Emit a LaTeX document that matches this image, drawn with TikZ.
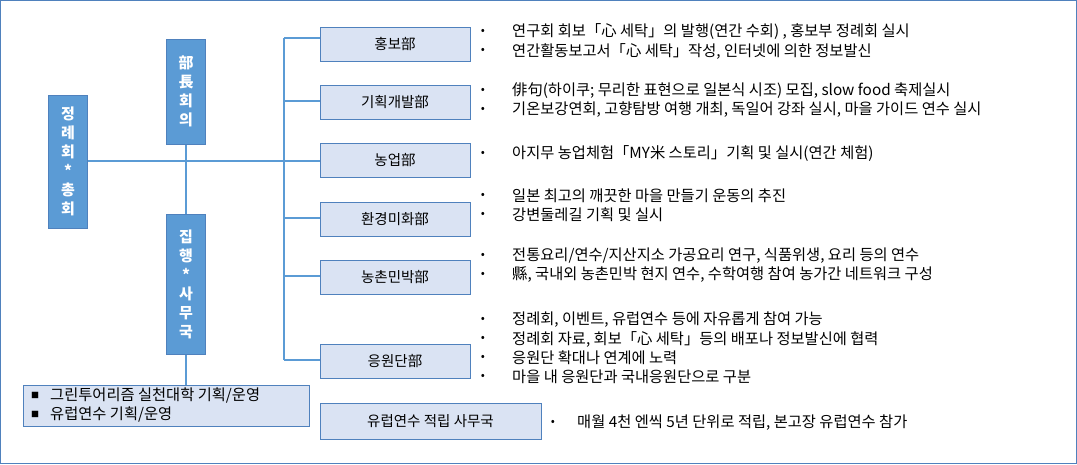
\documentclass[tikz,border=0pt]{standalone}
\usepackage{fontspec}
\setmainfont{Noto Sans CJK KR}
\begin{document}
\begin{tikzpicture}[x=1pt,y=-1pt,
  dept/.style={draw=boxline,fill=boxfill,line width=0.9pt,minimum width=150pt,minimum height=34pt,font=\fontsize{14.5}{17}\selectfont,inner sep=0pt},
  dark/.style={draw=boxline,fill=darkfill,line width=0.9pt,minimum width=39pt,text=white,font=\fontsize{15}{19}\selectfont\bfseries,align=center,inner sep=0pt},
  conn/.style={draw=linec,line width=2pt},
  txt/.style={anchor=west,font=\fontsize{15.3}{17}\selectfont,inner sep=0pt},
  bul/.style={anchor=center,font=\fontsize{12}{15}\selectfont,inner sep=0pt}]
\definecolor{boxline}{HTML}{4F81BD}
\definecolor{boxfill}{HTML}{DAE3F3}
\definecolor{darkfill}{HTML}{5B9BD5}
\definecolor{linec}{HTML}{5B9BD5}
\useasboundingbox (0,0) rectangle (1077,464);
\draw[draw=boxline,line width=0.8pt] (0.5,0.5) rectangle (1076.5,463.5);
\coordinate (t1) at (284,38);
\coordinate (t6) at (284,360);
\coordinate (t2) at (284,101);
\coordinate (t4) at (284,218);
\coordinate (t5) at (284,276);
\node[dept] (d1) at (395,44) {홍보部};
\node[dept] (d2) at (395,102) {기획개발部};
\node[dept] (d3) at (395,160.5) {농업部};
\node[dept] (d4) at (395,219.5) {환경미화部};
\node[dept] (d5) at (395,277.5) {농촌민박部};
\node[dept] (d6) at (395,361.5) {응원단部};
\node[dept,minimum width=221pt,minimum height=36pt] (f) at (430.5,421) {유럽연수 적립 사무국};
\draw[conn] (t1) -- (t6);
\draw[conn] (t1) -- (d1.west|-t1);
\draw[conn] (t2) -- (d2.west|-t2);
\draw[conn] (t4) -- (d4.west|-t4);
\draw[conn] (t5) -- (d5.west|-t5);
\draw[conn] (t6) -- (d6.west|-t6);
\draw[conn] (88,161) -- (d3.west|-0,161);
\draw[conn] (186,144) -- (186,385);
\node[dark,minimum height=133pt] (a) at (68,161.5) {정\\례\\회\\*\\총\\회};
\node[dark,minimum height=105pt] (b) at (186,91.5) {部\\長\\회\\의};
\node[dark,minimum height=140pt] (c) at (186,284) {집\\행\\*\\사\\무\\국};
\node[draw=boxline,fill=boxfill,line width=0.9pt,minimum width=286pt,minimum height=41pt,inner sep=0pt] (e) at (166,405.5) {};
\node[txt] (e1) at (50,395) {그린투어리즘 실천대학 기획/운영};
\node[txt] (e2) at (50,414) {유럽연수 기획/운영};
\node[bul,font=\fontsize{8}{10}\selectfont] at (35,395) {■};
\node[bul,font=\fontsize{8}{10}\selectfont] at (35,414) {■};
\foreach \y/\t in {32/{연구회 회보「心 세탁」의 발행(연간 수회) , 홍보부 정례회 실시},
  51/{연간활동보고서「心 세탁」작성, 인터넷에 의한 정보발신},
  91/{俳句(하이쿠; 무리한 표현으로 일본식 시조) 모집, slow food 축제실시},
  110/{기온보강연회, 고향탐방 여행 개최, 독일어 강좌 실시, 마을 가이드 연수 실시},
  154/{아지무 농업체험「MY米 스토리」기획 및 실시(연간 체험)},
  196/{일본 최고의 깨끗한 마을 만들기 운동의 추진},
  215/{강변둘레길 기획 및 실시},
  256/{전통요리/연수/지산지소 가공요리 연구, 식품위생, 요리 등의 연수},
  275/{縣, 국내외 농촌민박 현지 연수, 수학여행 참여 농가간 네트워크 구성},
  320/{정례회, 이벤트, 유럽연수 등에 자유롭게 참여 가능},
  339/{정례회 자료, 회보「心 세탁」등의 배포나 정보발신에 협력},
  358/{응원단 확대나 연계에 노력},
  377/{마을 내 응원단과  국내응원단으로 구분}}
{\node[bul] at (483,\y) {•}; \node[txt] at (512,\y) {\t};}
\node[bul] at (553,423) {•};
\node[txt] at (577,423) {매월 4천 엔씩 5년 단위로 적립, 본고장 유럽연수 참가};
\end{tikzpicture}
\end{document}
